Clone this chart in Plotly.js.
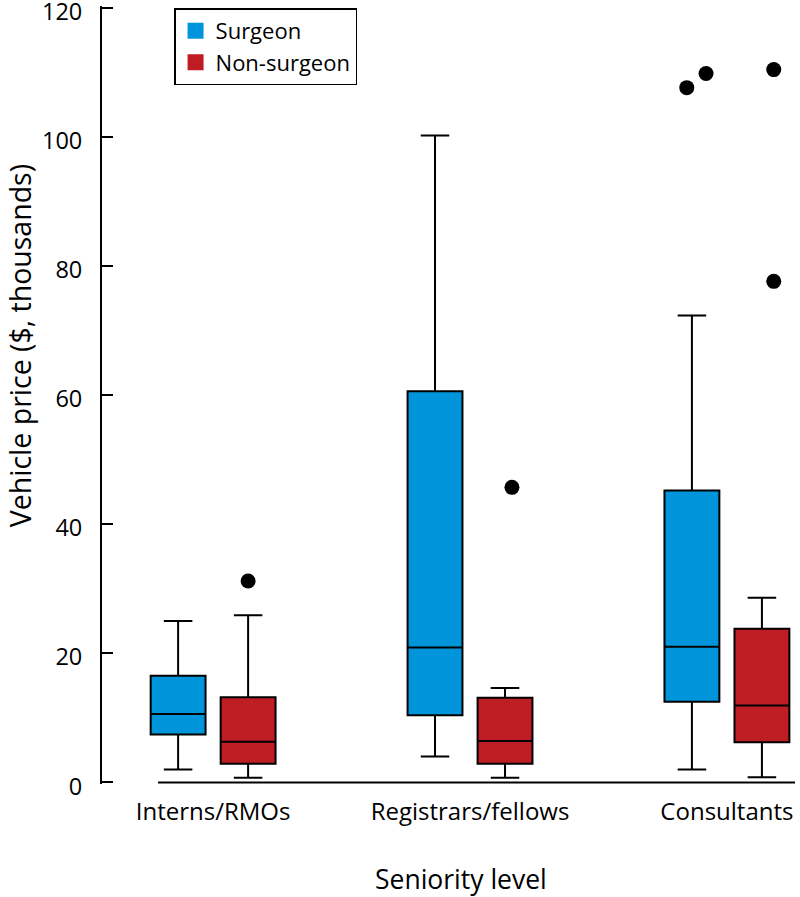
<!DOCTYPE html>
<html>
<head>
<meta charset="utf-8">
<script src="https://cdn.plot.ly/plotly-3.0.1.min.js"></script>
<style>html,body{margin:0;padding:0;background:#fff;}#chart{width:800px;height:897px;}</style>
</head>
<body>
<div id="chart"></div>
<script>
// Categories
const categories = ["Interns/RMOs", "Registrars/fellows", "Consultants"];

// Surgeon box statistics ($, thousands)
const surgeonQ1 = [7.4, 10.4, 12.5];
const surgeonMedian = [10.6, 20.9, 21.0];
const surgeonQ3 = [16.5, 60.6, 45.2];
const surgeonLower = [2.0, 4.0, 2.0];
const surgeonUpper = [25.0, 100.2, 72.3];

// Non-surgeon box statistics ($, thousands)
const nonQ1 = [2.9, 2.9, 6.2];
const nonMedian = [6.3, 6.4, 11.9];
const nonQ3 = [13.2, 13.1, 23.8];
const nonLower = [0.7, 0.7, 0.8];
const nonUpper = [25.9, 14.6, 28.6];

// Outliers: category index, value, small horizontal jitter (category units)
const surgeonOutCat = [2, 2];
const surgeonOutVal = [107.6, 109.8];
const surgeonOutJitter = [-0.02, 0.055];
const nonOutCat = [0, 1, 2, 2];
const nonOutVal = [31.2, 45.7, 110.4, 77.6];
const nonOutJitter = [0, 0.027, 0.046, 0.046];

// Y axis ticks
const yTickVals = [0, 20, 40, 60, 80, 100, 120];

const seriesNames = ["Surgeon", "Non-surgeon"];
const blue = "#0095DA";
const red = "#BE1E23";

const boxgap = 0.455, boxgroupgap = 0.216;
const groupOffset = (1 - boxgap) / 4;
const catIdx = categories.map((c, i) => i);

const font = "Open Sans, Lato, sans-serif";

function boxTrace(name, q1, med, q3, lo, hi, color) {
  return {
    type: "box", name: name, x: catIdx,
    q1: q1, median: med, q3: q3, lowerfence: lo, upperfence: hi,
    fillcolor: color, line: {color: "#000", width: 2},
    whiskerwidth: 0.52, boxpoints: false, showlegend: false,
    hoverinfo: "skip"
  };
}
function outlierTrace(cat, val, jit, off) {
  return {
    type: "scatter", mode: "markers", showlegend: false,
    x: cat.map((c, i) => c + off + jit[i]), y: val,
    marker: {color: "#000", size: 15, symbol: "circle"},
    hoverinfo: "y"
  };
}
function legendTrace(name, color) {
  return {
    type: "scatter", mode: "markers", name: name,
    x: [null], y: [null],
    marker: {color: color, size: 16, symbol: "square"}
  };
}

const data = [
  boxTrace(seriesNames[0], surgeonQ1, surgeonMedian, surgeonQ3, surgeonLower, surgeonUpper, blue),
  boxTrace(seriesNames[1], nonQ1, nonMedian, nonQ3, nonLower, nonUpper, red),
  outlierTrace(surgeonOutCat, surgeonOutVal, surgeonOutJitter, -groupOffset),
  outlierTrace(nonOutCat, nonOutVal, nonOutJitter, groupOffset),
  legendTrace(seriesNames[0], blue),
  legendTrace(seriesNames[1], red)
];

const layout = {
  width: 800, height: 897,
  margin: {l: 102, r: 5, t: 6, b: 113},
  paper_bgcolor: "#fff", plot_bgcolor: "#fff",
  font: {family: font, color: "#000", size: 21},
  boxmode: "group", boxgap: boxgap, boxgroupgap: boxgroupgap,
  showlegend: true,
  legend: {
    x: 0.104, y: 0.997, xanchor: "left", yanchor: "top",
    bordercolor: "#000", borderwidth: 1.5, bgcolor: "#fff",
    font: {family: font, size: 22, color: "#000"}
  },
  xaxis: {
    range: [-0.4325, 2.265], tickvals: catIdx, ticktext: categories,
    showline: false, showgrid: false, zeroline: false, ticks: "",
    tickfont: {family: font, size: 24, color: "#000"},
    ticklabelstandoff: 11, fixedrange: true
  },
  yaxis: {
    range: [-0.25, 120.25], tickmode: "array", tickvals: yTickVals,
    showline: true, linecolor: "#000", linewidth: 2,
    ticks: "inside", ticklen: 11, tickwidth: 2, tickcolor: "#000",
    showgrid: false, zeroline: false,
    tickfont: {family: font, size: 23.5, color: "#000"},
    ticklabeloverflow: "allow", ticklabelstandoff: 13, ticklabelshift: 4,
    fixedrange: true
  },
  shapes: [{
    type: "line", xref: "x", yref: "y", x0: -0.2145, x1: 2.265, y0: 0, y1: 0,
    line: {color: "#000", width: 2}
  }],
  annotations: [
    {text: "Vehicle price ($, thousands)", textangle: -90, showarrow: false,
     xref: "paper", yref: "paper", x: -0.118, y: 0.563, xanchor: "center", yanchor: "middle",
     font: {family: font, size: 28.5, color: "#000"}},
    {text: "Seniority level", showarrow: false,
     xref: "paper", yref: "paper", x: 0.518, y: -0.122, xanchor: "center", yanchor: "middle",
     font: {family: font, size: 26.5, color: "#000"}}
  ]
};

Plotly.newPlot("chart", data, layout, {staticPlot: true});
</script>
</body>
</html>
